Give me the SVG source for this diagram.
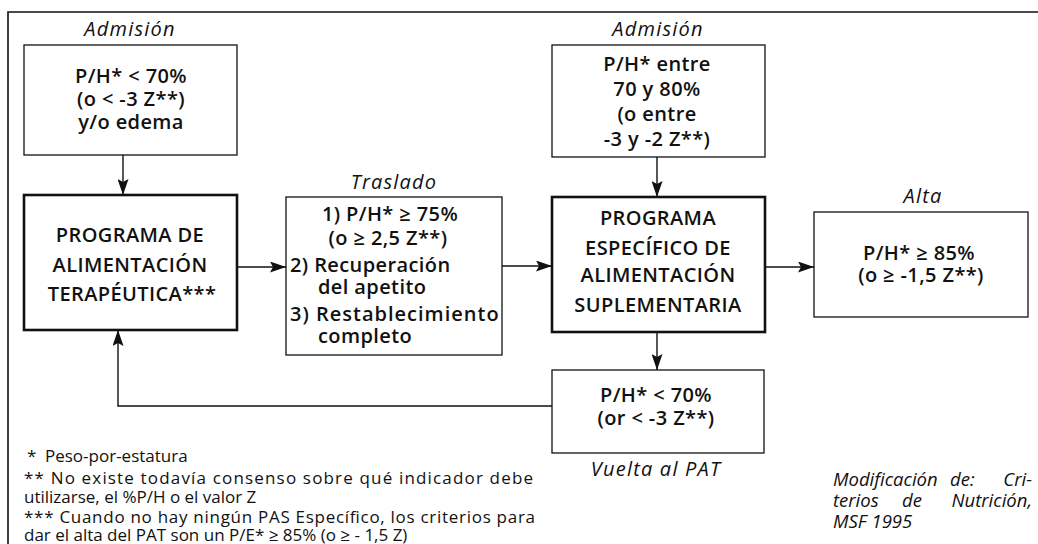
<svg xmlns="http://www.w3.org/2000/svg" width="1038" height="544" viewBox="0 0 1038 544">
<style>
.box{fill:#fff;stroke:#111;stroke-width:1.3}
.thick{fill:#fff;stroke:#111;stroke-width:2.6}
.frame{fill:none;stroke:#111;stroke-width:1.6}
.t{font-family:"Open Sans","Liberation Sans",sans-serif;font-weight:600;font-size:20px;letter-spacing:0.4px;fill:#111;text-anchor:middle}
.tl{font-family:"Open Sans","Liberation Sans",sans-serif;font-weight:600;font-size:20px;letter-spacing:0.4px;fill:#111}
.lab{font-family:"Open Sans","Liberation Sans",sans-serif;font-style:italic;font-weight:500;font-size:20px;letter-spacing:1.2px;fill:#111;text-anchor:middle}
.fn{font-family:"Open Sans","Liberation Sans",sans-serif;font-weight:500;font-size:17px;fill:#111}
.src{font-family:"Open Sans","Liberation Sans",sans-serif;font-style:italic;font-size:18.5px;fill:#111}
.c{fill:none;stroke:#111;stroke-width:1.4}
</style>
<defs>
<marker id="ah" markerUnits="userSpaceOnUse" markerWidth="17" markerHeight="11" refX="16" refY="5.5" orient="auto">
<path d="M0,0 L16,5.5 L0,11 L3,5.5 z" fill="#111"/>
</marker>
</defs>
<path class="frame" d="M8,544 V12 H1038"/>

<g id="connectors">
<line class="c" x1="123" y1="155" x2="123" y2="195" marker-end="url(#ah)"/>
<line class="c" x1="237" y1="267" x2="286" y2="267" marker-end="url(#ah)"/>
<line class="c" x1="502" y1="266" x2="552" y2="266" marker-end="url(#ah)"/>
<line class="c" x1="657" y1="157" x2="657" y2="197" marker-end="url(#ah)"/>
<line class="c" x1="765" y1="267" x2="814" y2="267" marker-end="url(#ah)"/>
<line class="c" x1="657" y1="332" x2="657" y2="370" marker-end="url(#ah)"/>
<path class="c" d="M552,406 H118 V330" marker-end="url(#ah)"/>
</g>

<g id="admision1">
<text class="lab" x="130" y="36">Admisión</text>
<rect class="box" x="24" y="45" width="213" height="110"/>
<text class="t" x="131" y="83">P/H* &lt; 70%</text>
<text class="t" x="131" y="106">(o &lt; -3 Z**)</text>
<text class="t" x="131" y="129">y/o edema</text>
</g>

<g id="pat">
<rect class="thick" x="24" y="195" width="213" height="135"/>
<text class="t" x="130" y="242">PROGRAMA DE</text>
<text class="t" x="130" y="272">ALIMENTACIÓN</text>
<text class="t" x="132" y="301">TERAPÉUTICA***</text>
</g>

<g id="traslado">
<text class="lab" x="394" y="189">Traslado</text>
<rect class="box" x="286" y="197" width="216" height="158"/>
<text class="t" x="390" y="221">1) P/H* ≥ 75%</text>
<text class="t" x="388" y="245">(o ≥ 2,5 Z**)</text>
<text class="tl" x="290" y="272">2) Recuperación</text>
<text class="tl" x="318" y="294">del apetito</text>
<text class="tl" x="290" y="321" textLength="209" lengthAdjust="spacing">3) Restablecimiento</text>
<text class="tl" x="318" y="343">completo</text>
</g>

<g id="admision2">
<text class="lab" x="658" y="36">Admisión</text>
<rect class="box" x="552" y="45" width="213" height="112"/>
<text class="t" x="657" y="71">P/H* entre</text>
<text class="t" x="657" y="96">70 y 80%</text>
<text class="t" x="657" y="121">(o entre</text>
<text class="t" x="657" y="146">-3 y -2 Z**)</text>
</g>

<g id="pas">
<rect class="thick" x="552" y="197" width="213" height="135"/>
<text class="t" x="658" y="225">PROGRAMA</text>
<text class="t" x="658" y="255">ESPECÍFICO DE</text>
<text class="t" x="658" y="282">ALIMENTACIÓN</text>
<text class="t" x="658" y="312">SUPLEMENTARIA</text>
</g>

<g id="alta">
<text class="lab" x="923" y="203">Alta</text>
<rect class="box" x="814" y="212" width="214" height="105"/>
<text class="t" x="919" y="260">P/H* ≥ 85%</text>
<text class="t" x="921" y="282">(o ≥ -1,5 Z**)</text>
</g>

<g id="vuelta">
<rect class="box" x="552" y="370" width="212" height="83"/>
<text class="t" x="656" y="402">P/H* &lt; 70%</text>
<text class="t" x="656" y="425">(or &lt; -3 Z**)</text>
<text class="lab" x="656" y="476">Vuelta al PAT</text>
</g>

<g id="footnotes">
<text class="fn" x="27" y="462">*</text>
<text class="fn" x="45" y="462">Peso-por-estatura</text>
<text class="fn" x="24" y="484" textLength="509" lengthAdjust="spacing">**  No existe todavía consenso sobre qué indicador debe</text>
<text class="fn" x="24" y="503">utilizarse, el %P/H o el valor Z</text>
<text class="fn" x="24" y="523" textLength="511" lengthAdjust="spacing">*** Cuando no hay ningún PAS Específico, los criterios para</text>
<text class="fn" x="24" y="541">dar el alta del PAT son un P/E* ≥ 85% (o ≥ - 1,5 Z)</text>
</g>

<g id="source">
<text class="src" x="833" y="486">Modificación</text>
<text class="src" x="950" y="486">de:</text>
<text class="src" x="1032" y="486" text-anchor="end">Cri-</text>
<text class="src" x="833" y="507">terios</text>
<text class="src" x="912" y="507" text-anchor="middle">de</text>
<text class="src" x="1032" y="507" text-anchor="end">Nutrición,</text>
<text class="src" x="833" y="528">MSF 1995</text>
</g>
</svg>
